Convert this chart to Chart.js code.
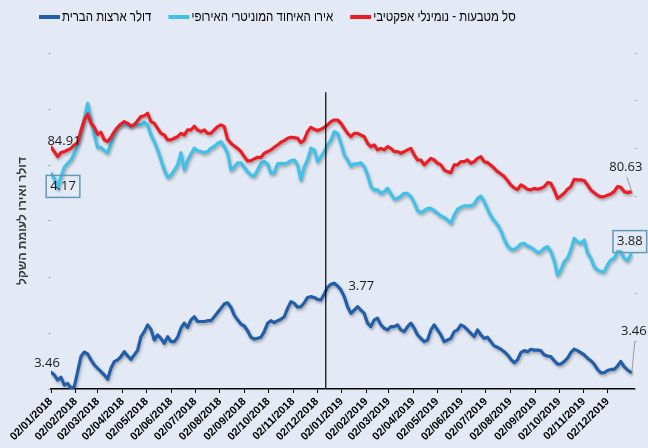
<!DOCTYPE html>
<html lang="he">
<head>
<meta charset="UTF-8">
<title>דולר, אירו וסל מטבעות 2018-2019</title>
<script src="https://cdn.jsdelivr.net/npm/chart.js"></script>
<style>
    html, body { margin: 0; padding: 0; background: #e4eaf5; }
    #wrap { width: 648px; height: 448px; }
</style>
</head>
<body>
<div id="wrap"><canvas id="grafico" width="648" height="448"></canvas></div>

<script>
// period covered by the samples (evenly spaced between these two dates)
const firstDate = '2018-01-02';
const lastDate = '2019-12-31';
const markerDate = '2018-12-13';

const monthTicks = [
    '02/01/2018', '02/02/2018', '02/03/2018', '02/04/2018', '02/05/2018', '02/06/2018',
    '02/07/2018', '02/08/2018', '02/09/2018', '02/10/2018', '02/11/2018', '02/12/2018',
    '02/01/2019', '02/02/2019', '02/03/2019', '02/04/2019', '02/05/2019', '02/06/2019',
    '02/07/2019', '02/08/2019', '02/09/2019', '02/10/2019', '02/11/2019', '02/12/2019'
];

const seriesNames = ['דולר ארצות הברית', 'אירו האיחוד המוניטרי האירופי', 'סל מטבעות - נומינלי אפקטיבי'];
const axisTitle = 'דולר ואירו לעומת השקל';

const dollar = [
    3.460, 3.450, 3.432, 3.442, 3.414, 3.420, 3.403, 3.408, 3.462, 3.516, 3.532, 3.525, 3.504, 3.486, 3.474,
    3.462, 3.450, 3.435, 3.474, 3.498, 3.504, 3.516, 3.533, 3.518, 3.506, 3.522, 3.539, 3.587, 3.605, 3.629,
    3.613, 3.575, 3.593, 3.581, 3.563, 3.587, 3.569, 3.569, 3.585, 3.617, 3.635, 3.620, 3.647, 3.658,
    3.641, 3.641, 3.641, 3.644, 3.644, 3.658, 3.673, 3.688, 3.704, 3.708, 3.692, 3.664, 3.647, 3.632, 3.625,
    3.608, 3.585, 3.578, 3.581, 3.585, 3.605, 3.635, 3.644, 3.637, 3.644, 3.649, 3.658, 3.688, 3.712, 3.706,
    3.692, 3.694, 3.708, 3.727, 3.730, 3.727, 3.720, 3.718, 3.739, 3.763, 3.774, 3.778, 3.768,
    3.754, 3.730, 3.694, 3.670, 3.682, 3.694, 3.682, 3.670, 3.635, 3.623, 3.647, 3.653, 3.629, 3.617, 3.611,
    3.623, 3.623, 3.629, 3.611, 3.605, 3.623, 3.635, 3.617, 3.593, 3.581, 3.569, 3.575, 3.611, 3.629, 3.611,
    3.593, 3.569, 3.575, 3.581, 3.605, 3.611, 3.629, 3.623, 3.611, 3.599, 3.587, 3.611, 3.593, 3.581,
    3.585, 3.569, 3.554, 3.549, 3.542, 3.533, 3.522, 3.506, 3.494, 3.504, 3.530, 3.537, 3.533, 3.542, 3.539,
    3.539, 3.537, 3.522, 3.518, 3.516, 3.501, 3.489, 3.489, 3.498, 3.510, 3.530, 3.542, 3.537, 3.530, 3.522,
    3.510, 3.501, 3.489, 3.470, 3.458, 3.458, 3.466, 3.470, 3.470, 3.482, 3.498, 3.480, 3.468, 3.460
];

const euro = [
    4.170, 4.153, 4.117, 4.158, 4.192, 4.206, 4.218, 4.242, 4.272, 4.313, 4.367, 4.420, 4.361, 4.307, 4.263,
    4.263, 4.251, 4.244, 4.278, 4.313, 4.335, 4.342, 4.347, 4.343, 4.339, 4.347, 4.344, 4.344, 4.353, 4.343,
    4.307, 4.283, 4.254, 4.218, 4.182, 4.156, 4.164, 4.182, 4.200, 4.244, 4.182, 4.216, 4.239, 4.260,
    4.251, 4.248, 4.244, 4.248, 4.260, 4.266, 4.278, 4.283, 4.266, 4.242, 4.182, 4.192, 4.208, 4.208, 4.192,
    4.176, 4.164, 4.161, 4.182, 4.206, 4.212, 4.204, 4.170, 4.173, 4.204, 4.206, 4.204, 4.208, 4.216, 4.218,
    4.200, 4.147, 4.194, 4.218, 4.260, 4.254, 4.212, 4.230, 4.248, 4.272, 4.289, 4.319, 4.313,
    4.278, 4.236, 4.218, 4.197, 4.204, 4.204, 4.208, 4.194, 4.164, 4.123, 4.111, 4.111, 4.099, 4.105, 4.117,
    4.097, 4.078, 4.081, 4.089, 4.099, 4.099, 4.087, 4.066, 4.037, 4.030, 4.037, 4.045, 4.045, 4.037, 4.028,
    4.018, 4.013, 4.004, 3.992, 4.022, 4.042, 4.049, 4.054, 4.054, 4.054, 4.061, 4.081, 4.089, 4.069,
    4.042, 4.018, 4.001, 3.986, 3.966, 3.935, 3.911, 3.899, 3.899, 3.906, 3.918, 3.920, 3.911, 3.906, 3.897,
    3.887, 3.891, 3.903, 3.908, 3.891, 3.858, 3.807, 3.825, 3.855, 3.867, 3.897, 3.938, 3.926, 3.920, 3.932,
    3.885, 3.867, 3.837, 3.825, 3.819, 3.819, 3.843, 3.861, 3.867, 3.891, 3.891, 3.867, 3.858, 3.880
];

const basket = [
    84.91, 84.47, 83.99, 84.37, 84.47, 84.62, 84.78, 85.10, 85.32, 86.47, 87.48, 88.05, 87.16, 86.78, 86.12,
    86.31, 85.58, 85.42, 85.83, 86.37, 86.78, 87.10, 87.32, 87.16, 86.91, 87.01, 87.42, 87.80, 87.89, 88.12,
    87.32, 87.16, 86.69, 86.21, 86.05, 85.58, 85.58, 85.74, 85.89, 86.21, 86.05, 86.53, 86.53, 86.89,
    86.53, 86.37, 86.53, 86.21, 86.21, 86.53, 86.85, 87.01, 86.85, 85.64, 85.26, 85.01, 84.78, 84.47, 83.99,
    83.58, 83.61, 83.77, 83.93, 83.90, 84.31, 84.47, 84.63, 84.88, 85.10, 85.36, 85.51, 85.74, 85.83, 85.80,
    85.74, 85.32, 85.58, 86.37, 86.78, 86.59, 86.47, 86.59, 86.78, 87.01, 87.32, 87.48, 87.48,
    87.17, 86.69, 86.21, 85.90, 86.21, 86.21, 86.05, 85.90, 85.26, 84.94, 85.10, 84.63, 84.78, 84.63, 84.94,
    84.78, 84.47, 84.47, 84.31, 84.47, 84.63, 84.78, 84.15, 83.67, 83.67, 83.20, 83.51, 83.83, 83.67, 83.36,
    83.20, 82.72, 82.56, 82.47, 83.20, 83.20, 83.51, 83.51, 83.67, 83.36, 83.51, 83.83, 83.99, 83.51,
    83.42, 83.17, 82.88, 82.56, 82.34, 82.09, 81.71, 81.29, 81.01, 80.85, 81.29, 81.13, 80.88, 80.82, 80.97,
    80.88, 80.97, 81.13, 81.51, 81.45, 80.82, 80.02, 80.24, 80.50, 80.88, 81.13, 81.83, 81.77, 81.77, 81.71,
    81.29, 80.82, 80.56, 80.31, 80.15, 80.18, 80.31, 80.44, 80.66, 81.13, 81.07, 80.66, 80.56, 80.63
];

// days since firstDate, accepts dd/mm/yyyy or yyyy-mm-dd
function dayOf(txt) {
    let d, m, y;
    if (txt.includes('/')) { [d, m, y] = txt.split('/').map(Number); }
    else { [y, m, d] = txt.split('-').map(Number); }
    const [y0, m0, d0] = firstDate.split('-').map(Number);
    return (Date.UTC(y, m - 1, d) - Date.UTC(y0, m0 - 1, d0)) / 86400000;
}

const span = dayOf(lastDate);
const asPoints = arr => arr.map((v, i) => ({ x: i * span / (arr.length - 1), y: v }));
const tickLabelByDay = {};
monthTicks.forEach(t => { tickLabelByDay[dayOf(t)] = t; });

const fonte = '"Liberation Sans", Arial, sans-serif';
const cores = ['#215ea9', '#3fc1ea', '#ec1c24'];

// value labels next to first / last points
const callouts = [
    { ds: 2, index: 0, text: '84.91', dx: 13, dy: -6 },
    { ds: 1, index: 0, text: '4.17', dx: 12, dy: 13, box: true },
    { ds: 0, index: 0, text: '3.46', dx: -4, dy: -9 },
    { ds: 0, index: 85, text: '3.77', dx: 27, dy: 3 },
    { ds: 2, index: 174, text: '80.63', dx: -5, dy: -25, leader: true },
    { ds: 1, index: 174, text: '3.88', dx: -1, dy: -13, box: true },
    { ds: 0, index: 174, text: '3.46', dx: 3, dy: -41, leader: true }
];

const fundo = {
    id: 'fundo',
    beforeDraw(chart) {
        const ctx = chart.ctx;
        ctx.save();
        ctx.fillStyle = '#e4eaf5';
        ctx.fillRect(0, 0, chart.width, chart.height);
        ctx.restore();
    }
};

const sombra = {
    id: 'sombra',
    beforeDatasetDraw(chart) {
        const ctx = chart.ctx;
        ctx.save();
        ctx.shadowColor = 'rgba(0,0,0,0.3)';
        ctx.shadowBlur = 3;
        ctx.shadowOffsetX = 1;
        ctx.shadowOffsetY = 2;
    },
    afterDatasetDraw(chart) {
        chart.ctx.restore();
    }
};

const extras = {
    id: 'extras',
    afterDatasetsDraw(chart) {
        const ctx = chart.ctx;
        const { x, y } = chart.scales;
        // vertical marker line
        const mx = x.getPixelForValue(dayOf(markerDate));
        ctx.save();
        ctx.strokeStyle = '#000';
        ctx.lineWidth = 1.2;
        ctx.beginPath();
        ctx.moveTo(mx, y.getPixelForValue(4.46));
        ctx.lineTo(mx, chart.chartArea.bottom);
        ctx.stroke();
        ctx.restore();
    },
    afterDraw(chart) {
        const ctx = chart.ctx;
        ctx.save();
        // legend (line sample left of the hebrew text, condensed like the original)
        ctx.font = '14px ' + fonte;
        ctx.textBaseline = 'middle';
        ctx.textAlign = 'left';
        let lx = 39;
        const ly = 17;
        chart.data.datasets.forEach(ds => {
            ctx.strokeStyle = ds.borderColor;
            ctx.lineWidth = 4;
            ctx.beginPath();
            ctx.moveTo(lx, ly);
            ctx.lineTo(lx + 21, ly);
            ctx.stroke();
            lx += 23;
            const w = ctx.measureText(ds.label).width * 0.82;
            ctx.fillStyle = '#000';
            ctx.fillText(ds.label, lx, ly, w);
            lx += w + 17;
        });

        // callouts
        ctx.font = '13px "Open Sans", sans-serif';
        ctx.textAlign = 'center';
        callouts.forEach(c => {
            const pt = chart.getDatasetMeta(c.ds).data[c.index];
            const tx = pt.x + c.dx;
            const ty = pt.y + c.dy;
            if (c.leader) {
                ctx.strokeStyle = '#9a9a9a';
                ctx.lineWidth = 1;
                ctx.beginPath();
                ctx.moveTo(tx + 1, ty + 10);
                ctx.lineTo(pt.x + 1, pt.y);
                ctx.stroke();
            }
            if (c.box) {
                const w = ctx.measureText(c.text).width + 8;
                ctx.strokeStyle = '#5f9cb4';
                ctx.lineWidth = 1.5;
                ctx.strokeRect(tx - w / 2, ty - 11, w, 22);
            }
            ctx.fillStyle = '#1a1a1a';
            ctx.fillText(c.text, tx, ty);
        });
        ctx.restore();
    }
};

new Chart(document.getElementById('grafico'), {
    type: 'line',
    data: {
        datasets: [
            { label: seriesNames[0], data: asPoints(dollar), yAxisID: 'y', borderColor: cores[0], order: 2 },
            { label: seriesNames[1], data: asPoints(euro), yAxisID: 'y', borderColor: cores[1], order: 1 },
            { label: seriesNames[2], data: asPoints(basket), yAxisID: 'y2', borderColor: cores[2], order: 0 }
        ]
    },
    options: {
        responsive: false,
        animation: false,
        layout: { padding: { top: 53, left: 0, right: 0, bottom: 0 } },
        elements: {
            line: { borderWidth: 3.2, tension: 0, borderCapStyle: 'round', borderJoinStyle: 'round' },
            point: { radius: 0 }
        },
        plugins: {
            legend: { display: false },
            tooltip: { enabled: false }
        },
        scales: {
            x: {
                type: 'linear',
                min: 0,
                max: 732,
                afterBuildTicks: s => { s.ticks = monthTicks.map(t => ({ value: dayOf(t) })); },
                afterFit: s => { s.height = 59; },
                grid: { drawOnChartArea: false, color: '#000', tickLength: 4 },
                border: { color: '#000', width: 1.5 },
                ticks: {
                    autoSkip: false,
                    minRotation: 45,
                    maxRotation: 45,
                    padding: 2,
                    color: '#000',
                    font: { family: fonte, size: 11, weight: 'bold' },
                    callback: v => tickLabelByDay[v] || ''
                }
            },
            y: {
                position: 'left',
                min: 3.4,
                max: 4.6,
                afterFit: s => { s.width = 51; },
                ticks: { display: false, stepSize: 0.2 },
                grid: { drawOnChartArea: false, color: '#b0b0b0', tickLength: 3 },
                border: { display: false },
                title: {
                    display: true,
                    text: axisTitle,
                    color: '#3a3a3a',
                    font: { family: fonte, size: 12, weight: 'bold' },
                    padding: { top: 15, bottom: 0 }
                }
            },
            y2: {
                position: 'right',
                min: 61.86,
                max: 93.86,
                afterFit: s => { s.width = 14; },
                // seven equal steps, unlabelled
                afterBuildTicks: s => {
                    s.ticks = [0, 1, 2, 3, 4, 5, 6, 7].map(k => ({ value: s.min + k * (s.max - s.min) / 7 }));
                },
                ticks: { display: false },
                grid: { drawOnChartArea: false, color: '#b8b8b8', tickLength: 3 },
                border: { display: false }
            }
        }
    },
    plugins: [fundo, sombra, extras]
});
</script>
</body>
</html>
